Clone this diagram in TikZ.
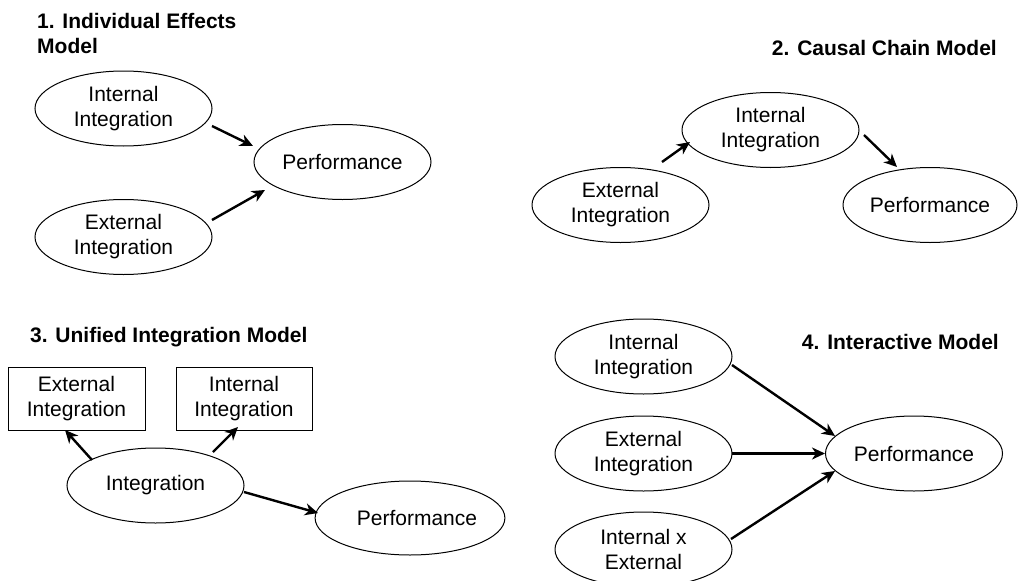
\documentclass[tikz,border=0pt]{standalone}
\usepackage{fontspec}
\setmainfont{Liberation Sans}
\usetikzlibrary{arrows.meta,shapes.geometric}
\tikzset{
  ell/.style={draw, line width=1pt, ellipse, inner sep=0pt, minimum width=177pt, minimum height=75pt, align=center, font=\fontsize{21}{25}\selectfont},
  rbox/.style={draw, line width=1pt, rectangle, inner sep=0pt, minimum width=137pt, minimum height=63pt, align=center, font=\fontsize{21}{25}\selectfont},
  ttl/.style={inner sep=0pt, align=left, font=\fontsize{21}{25}\selectfont\bfseries},
  arr/.style={line width=2.4pt, -{Stealth[length=13pt,width=12pt,inset=4pt]}}
}
\begin{document}
\begin{tikzpicture}[x=1pt,y=-1pt]
\useasboundingbox[fill=white] (0,0) rectangle (1018,581);

% Panel 1
\node[ttl, anchor=base west] (t1) at (37,28) {1. Individual Effects};
\node[ttl, anchor=base west] (t1b) at (37,53) {Model};
\node[ell] (p1i) at (123.5,108.5) {Internal\\Integration};
\node[ell] (p1p) at (342.5,162) {Performance};
\node[ell] (p1e) at (123.5,237) {External\\Integration};
\draw[arr] ([shift={(88.5,17.5)}]p1i.center) -- ([shift={(-89.5,-16)}]p1p.center);
\draw[arr] ([shift={(88.5,-17)}]p1e.center) -- ([shift={(-77.5,28)}]p1p.center);

% Panel 2
\node[ttl, anchor=base east] (t2) at (997,55) {2. Causal Chain Model};
\node[ell] (p2i) at (770.5,130) {Internal\\Integration};
\node[ell] (p2e) at (620.5,205) {External\\Integration};
\node[ell, minimum width=174pt] (p2p) at (930,205) {Performance};
\draw[arr] ([shift={(41.5,-43)}]p2e.center) -- ([shift={(-80.5,12)}]p2i.center);
\draw[arr] ([shift={(93.5,5)}]p2i.center) -- ([shift={(-33,-38)}]p2p.center);

% Panel 3
\node[ttl, anchor=base west] (t3) at (30,342) {3. Unified Integration Model};
\node[rbox] (r3e) at (76.5,398.5) {External\\Integration};
\node[rbox, minimum width=136pt] (r3i) at (244,398.5) {Internal\\Integration};
\node[ell] (p3g) at (155.5,485.5) {Integration};
\node[ell, minimum width=178pt, minimum height=74pt] (p3p) at (410,518) {\hspace*{14pt}Performance};
\draw[arr] ([shift={(-63.5,-25.5)}]p3g.center) -- ([shift={(-11.5,31.5)}]r3e.center);
\draw[arr] ([shift={(57.5,-33.5)}]p3g.center) -- ([shift={(-6,28.5)}]r3i.center);
\draw[arr] ([shift={(88.5,6.5)}]p3g.center) -- ([shift={(-92,-5)}]p3p.center);

% Panel 4
\node[ttl, anchor=base east] (t4) at (999,349) {4. Interactive Model};
\node[ell] (q4i) at (643.5,356.5) {Internal\\Integration};
\node[ell] (q4e) at (643.5,453.5) {External\\Integration};
\node[ell] (q4x) at (643.5,549.5) {Internal x\\External};
\node[ell] (q4p) at (914,453.5) {Performance};
\draw[arr] ([shift={(88.5,8.5)}]q4i.center) -- ([shift={(-79,-17.5)}]q4p.center);
\draw[arr] ([shift={(88.5,0)}]q4e.center) -- ([shift={(-89,0)}]q4p.center);
\draw[arr] ([shift={(87.5,-10.5)}]q4x.center) -- ([shift={(-79,17.5)}]q4p.center);
\end{tikzpicture}
\end{document}
